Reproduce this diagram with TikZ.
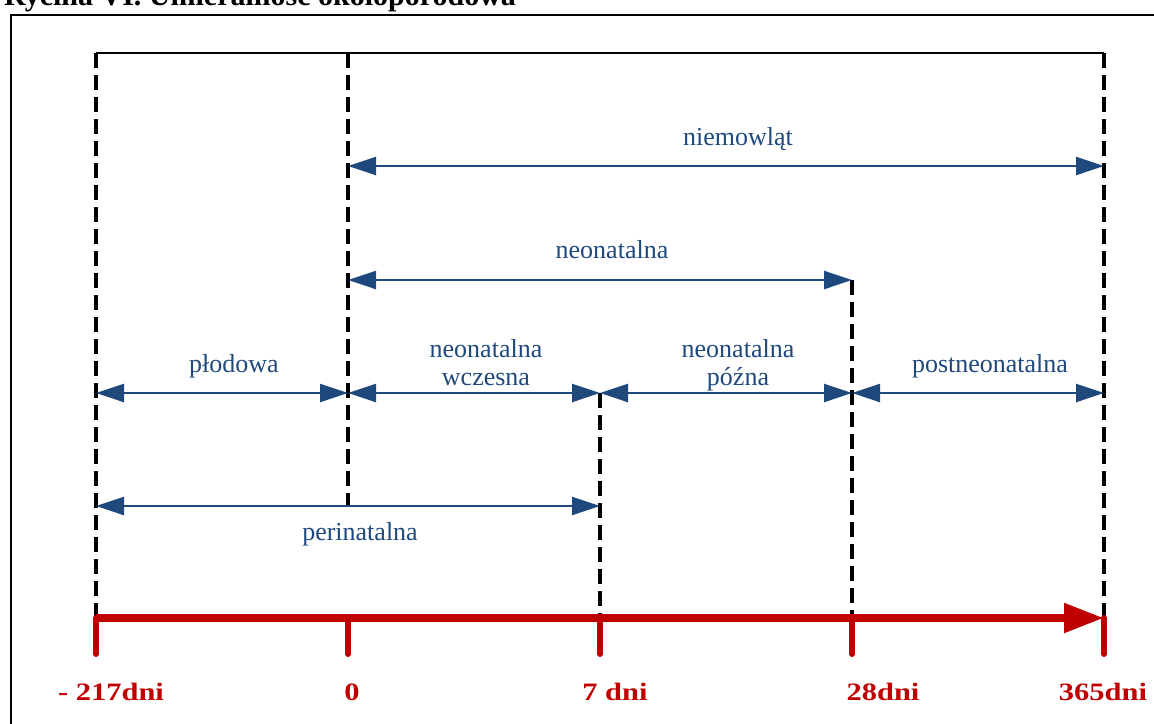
\documentclass[tikz,border=0pt]{standalone}
\usepackage{fontspec}
\setmainfont{Liberation Serif}
\usepackage{graphicx}
\usetikzlibrary{arrows.meta}

\definecolor{okresblue}{RGB}{31,73,125}
\definecolor{osred}{RGB}{192,0,0}
\newcommand{\szer}[1]{\scalebox{1.22}[1]{#1}}

\tikzset{
  przerywana/.style={line width=3.2pt,dash pattern=on 15pt off 7pt},
  okres/.style={draw=okresblue,line width=2.4pt,
    {Triangle[length=28pt,width=18pt]}-{Triangle[length=28pt,width=18pt]}},
  opis/.style={text=okresblue,font=\fontsize{26}{28}\selectfont,align=center,
    inner sep=0pt,anchor=base,xshift=12pt},
  dni/.style={text=osred,font=\bfseries\fontsize{25}{28}\selectfont,anchor=base,inner sep=0pt}
}

\begin{document}
\begin{tikzpicture}[x=1pt,y=-1pt]
  \useasboundingbox (0,0) rectangle (1154,723);
  \clip (0,0) rectangle (1154,723);
  % naglowek i ramka
  \node[anchor=base west,inner sep=0pt,font=\bfseries\fontsize{30}{34}\selectfont] (tytul) at (4,5) {Rycina VI. Umieralność okołoporodowa};
  \draw[line width=2.4pt] (11,740) -- (11,15) -- (1170,15);

  % punkty na osi
  \coordinate (o1) at (96,618);
  \coordinate (o2) at (348,618);
  \coordinate (o3) at (600,618);
  \coordinate (o4) at (852,618);
  \coordinate (o5) at (1104,618);
  % poziomy
  \coordinate (gora) at (0,53);
  \coordinate (p1) at (0,166);
  \coordinate (p2) at (0,280);
  \coordinate (p3) at (0,393);
  \coordinate (p4) at (0,506);

  \draw[line width=2.4pt] (o1 |- gora) -- (o5 |- gora);
  \draw[przerywana] (o1 |- gora) -- (o1);
  \draw[przerywana] (o2 |- gora) -- (o2 |- p4);
  \draw[przerywana] (o3 |- p3) -- (o3);
  \draw[przerywana] (o4 |- p2) -- (o4);
  \draw[przerywana] (o5 |- gora) -- (o5);

  % okresy
  \draw[okres] (o2 |- p1) -- (o5 |- p1) node[opis,midway,yshift=21pt] (niemowlat) {niemowląt};
  \draw[okres] (o2 |- p2) -- (o4 |- p2) node[opis,midway,yshift=22pt] (neo) {neonatalna};
  \draw[okres] (o1 |- p3) -- (o2 |- p3) node[opis,midway,yshift=21pt] (plodowa) {płodowa};
  \draw[okres] (o2 |- p3) -- (o3 |- p3) node[opis,midway,yshift=8pt] (wczesna) {neonatalna\\wczesna};
  \draw[okres] (o3 |- p3) -- (o4 |- p3) node[opis,midway,yshift=8pt] (pozna) {neonatalna\\późna};
  \draw[okres] (o4 |- p3) -- (o5 |- p3) node[opis,midway,yshift=21pt] (postneo) {postneonatalna};
  \draw[okres] (o1 |- p4) -- (o3 |- p4) node[opis,midway,yshift=-34pt] (peri) {perinatalna};

  % os czasu
  \draw[osred,line width=8pt,-{Triangle[length=40pt,width=28pt]}] (o1) -- (o5);
  \foreach \i in {1,...,5}
    \draw[osred,line width=6pt,line cap=round] (o\i) -- ++(0,36);
  \node[dni,xshift=15pt] (l1) at (o1 |- 0,700) {\szer{- 217dni}};
  \node[dni,xshift=4pt] (l2) at (o2 |- 0,700) {\szer{0}};
  \node[dni,xshift=15pt] (l3) at (o3 |- 0,700) {\szer{7 dni}};
  \node[dni,xshift=31pt] (l4) at (o4 |- 0,700) {\szer{28dni}};
  \node[dni,xshift=-1pt] (l5) at (o5 |- 0,700) {\szer{365dni}};
\end{tikzpicture}
\end{document}
